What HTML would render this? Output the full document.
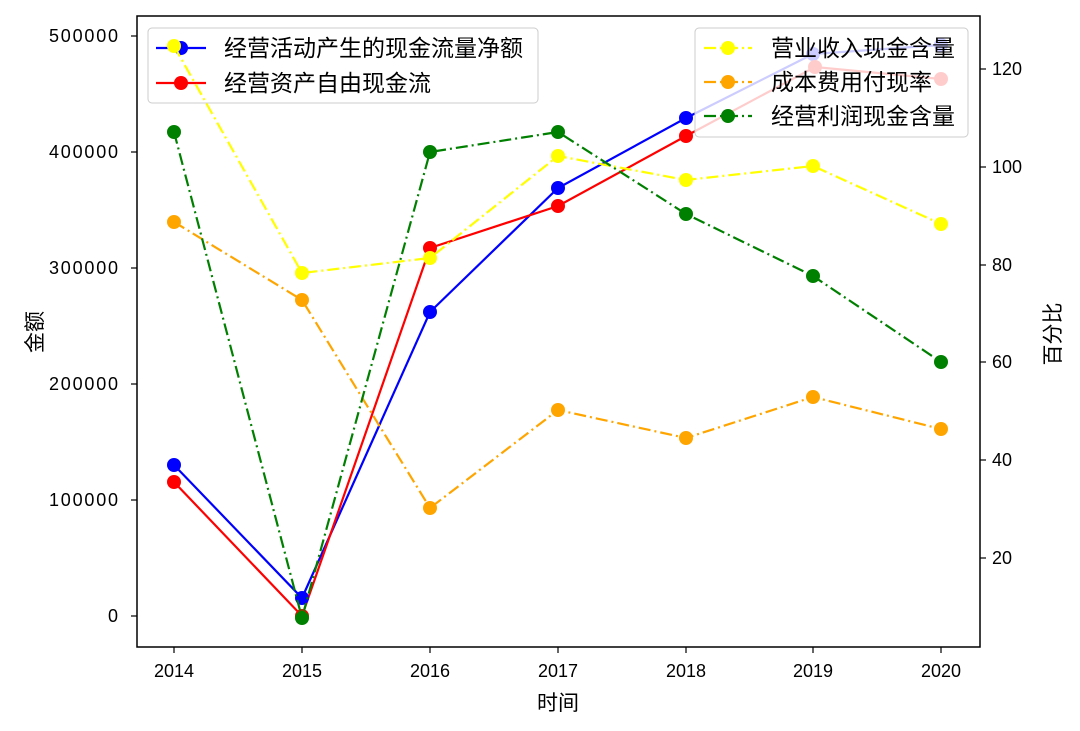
<!DOCTYPE html>
<html><head><meta charset="utf-8"><style>body{margin:0;background:#fff}svg{display:block;font-family:"Liberation Sans","Noto Sans CJK SC",sans-serif}</style></head>
<body>
<svg width="1080" height="731" viewBox="0 0 1080 731" xmlns="http://www.w3.org/2000/svg">
<rect width="1080" height="731" fill="#fff"/>
<g fill="none" stroke-width="2.2">
<polyline stroke="#0000ff" points="174,465 302,598 430,312 558,188 686,118 813,54 941,45"/>
<polyline stroke="#ff0000" points="174,482 302,616 430,248 558,206 686,136 815,67 941,79"/>
</g>
<g fill="#0000ff"><circle cx="174" cy="465" r="7"/><circle cx="302" cy="598" r="7"/><circle cx="430" cy="312" r="7"/><circle cx="558" cy="188" r="7"/><circle cx="686" cy="118" r="7"/><circle cx="813" cy="54" r="7"/><circle cx="941" cy="45" r="7"/></g>
<g fill="#ff0000"><circle cx="174" cy="482" r="7"/><circle cx="302" cy="616" r="7"/><circle cx="430" cy="248" r="7"/><circle cx="558" cy="206" r="7"/><circle cx="686" cy="136" r="7"/><circle cx="815" cy="67" r="7"/><circle cx="941" cy="79" r="7"/></g>
<rect x="148" y="28" width="390" height="75" rx="4" fill="#fff" fill-opacity="0.8" stroke="#ccc"/>
<line x1="156" y1="48" x2="206" y2="48" stroke="#0000ff" stroke-width="2.2"/><circle cx="181" cy="48" r="7" fill="#0000ff"/>
<line x1="156" y1="83" x2="206" y2="83" stroke="#ff0000" stroke-width="2.2"/><circle cx="181" cy="83" r="7" fill="#ff0000"/>
<g font-size="23" fill="#000"><text x="224" y="56">经营活动产生的现金流量净额</text><text x="224" y="91">经营资产自由现金流</text></g>
<g fill="none" stroke-width="2.2">
<polyline stroke="#ffff00" stroke-dasharray="12,4,2,4" points="174,46 302,273 430,258 558,156 686,180 813,166 941,224"/>
<polyline stroke="#ffa500" stroke-dasharray="12,4,2,4" points="174,222 302,300 430,508 558,410 686,438 813,397 941,429"/>
<polyline stroke="#008000" stroke-dasharray="12,4,2,4" points="174,132 302,618 430,152 558,132 686,214 813,276 941,362"/>
</g>
<g fill="#ffff00"><circle cx="174" cy="46" r="7"/><circle cx="302" cy="273" r="7"/><circle cx="430" cy="258" r="7"/><circle cx="558" cy="156" r="7"/><circle cx="686" cy="180" r="7"/><circle cx="813" cy="166" r="7"/><circle cx="941" cy="224" r="7"/></g>
<g fill="#ffa500"><circle cx="174" cy="222" r="7"/><circle cx="302" cy="300" r="7"/><circle cx="430" cy="508" r="7"/><circle cx="558" cy="410" r="7"/><circle cx="686" cy="438" r="7"/><circle cx="813" cy="397" r="7"/><circle cx="941" cy="429" r="7"/></g>
<g fill="#008000"><circle cx="174" cy="132" r="7"/><circle cx="302" cy="618" r="7"/><circle cx="430" cy="152" r="7"/><circle cx="558" cy="132" r="7"/><circle cx="686" cy="214" r="7"/><circle cx="813" cy="276" r="7"/><circle cx="941" cy="362" r="7"/></g>
<rect x="137" y="16" width="843" height="631" fill="none" stroke="#000" stroke-width="1.5"/>
<g stroke="#000" stroke-width="1.2">
<line x1="137" y1="36" x2="131" y2="36"/><line x1="137" y1="152" x2="131" y2="152"/><line x1="137" y1="268" x2="131" y2="268"/><line x1="137" y1="384" x2="131" y2="384"/><line x1="137" y1="500" x2="131" y2="500"/><line x1="137" y1="616" x2="131" y2="616"/>
<line x1="980" y1="69" x2="986" y2="69"/><line x1="980" y1="167" x2="986" y2="167"/><line x1="980" y1="265" x2="986" y2="265"/><line x1="980" y1="362" x2="986" y2="362"/><line x1="980" y1="460" x2="986" y2="460"/><line x1="980" y1="558" x2="986" y2="558"/>
<line x1="174" y1="647" x2="174" y2="653"/><line x1="302" y1="647" x2="302" y2="653"/><line x1="430" y1="647" x2="430" y2="653"/><line x1="558" y1="647" x2="558" y2="653"/><line x1="686" y1="647" x2="686" y2="653"/><line x1="813" y1="647" x2="813" y2="653"/><line x1="941" y1="647" x2="941" y2="653"/>
</g>
<g font-size="18" fill="#000" text-anchor="end">
<text x="118" y="42" textLength="69">500000</text><text x="118" y="158" textLength="69">400000</text><text x="118" y="274" textLength="69">300000</text><text x="118" y="390" textLength="69">200000</text><text x="118" y="506" textLength="69">100000</text><text x="118" y="622">0</text>
</g>
<g font-size="18" fill="#000">
<text x="992" y="75">120</text><text x="992" y="173">100</text><text x="992" y="271">80</text><text x="992" y="368">60</text><text x="992" y="466">40</text><text x="992" y="564">20</text>
</g>
<g font-size="18" fill="#000" text-anchor="middle">
<text x="174" y="677">2014</text><text x="302" y="677">2015</text><text x="430" y="677">2016</text><text x="558" y="677">2017</text><text x="686" y="677">2018</text><text x="813" y="677">2019</text><text x="941" y="677">2020</text>
<text x="558" y="710" font-size="21">时间</text>
<text transform="translate(42,332) rotate(-90)" font-size="21">金额</text>
<text transform="translate(1060,334) rotate(-90)" font-size="21">百分比</text>
</g>
<rect x="695" y="28" width="273" height="109" rx="4" fill="#fff" fill-opacity="0.8" stroke="#ccc"/>
<g stroke-width="2.2" stroke-dasharray="12,4,2,4">
<line x1="704" y1="48" x2="752" y2="48" stroke="#ffff00"/><line x1="704" y1="82" x2="752" y2="82" stroke="#ffa500"/><line x1="704" y1="116" x2="752" y2="116" stroke="#008000"/></g>
<circle cx="728" cy="48" r="7" fill="#ffff00"/><circle cx="728" cy="82" r="7" fill="#ffa500"/><circle cx="728" cy="116" r="7" fill="#008000"/>
<g font-size="23" fill="#000"><text x="771" y="56">营业收入现金含量</text><text x="771" y="90">成本费用付现率</text><text x="771" y="124">经营利润现金含量</text></g>
</svg>
</body></html>
